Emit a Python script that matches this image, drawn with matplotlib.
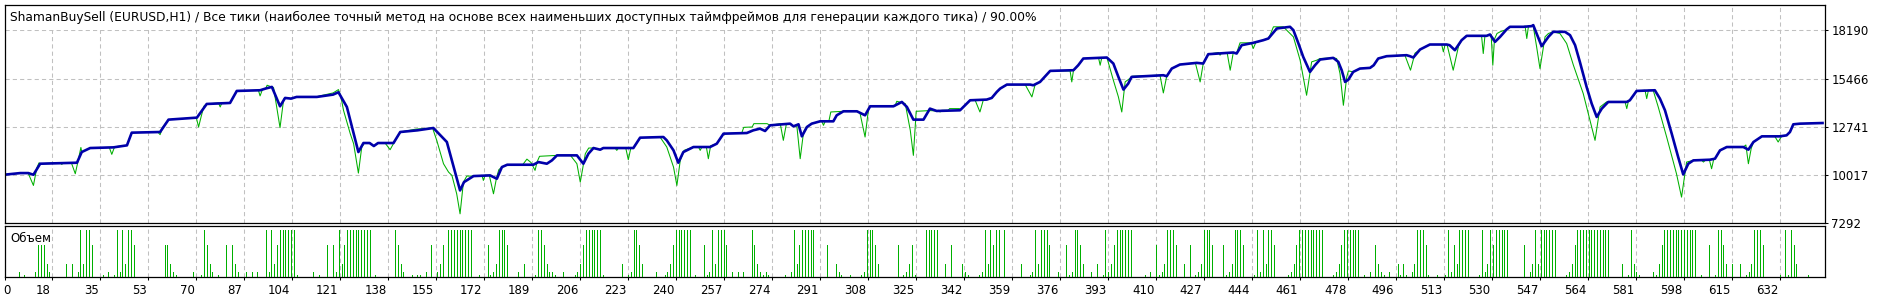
import matplotlib
matplotlib.use("Agg")
import matplotlib.pyplot as plt
import matplotlib.transforms as mtransforms
import numpy as np

# -----------------------
# Texts and axes
# -----------------------
TITLE = ("ShamanBuySell (EURUSD,H1) / Все тики (наиболее точный метод на основе всех "
         "наименьших доступных таймфреймов для генерации каждого тика) / 90.00%")
VOLUME_LABEL = "Объем"
Y_TICKS = [7292, 10017, 12741, 15466, 18190]
Y_MAX = 19643
X_MAX = 648
X_STEP = 17.087  # trades per grid cell
X_TICK_LABELS = ["0", "18", "35", "53", "70", "87", "104", "121", "138", "155", "172",
                 "189", "206", "223", "240", "257", "274", "291", "308", "325", "342",
                 "359", "376", "393", "410", "427", "444", "461", "478", "496", "513",
                 "530", "547", "564", "581", "598", "615", "632"]

# -----------------------
# Balance (trade number, deposit)
# -----------------------
BAL_T = [0, 5.6, 8.5, 10.3, 12.7, 25.8, 27.5, 30.5, 38.8, 43.6, 45.3, 55.4, 58.4, 68.5,
         72.0, 80.3, 82.7, 91.0, 93.0, 95.2, 98.1, 99.9, 102.0, 104.0, 111.2, 117.0,
         118.9, 121.9, 126.0, 127.8, 130.0, 131.5, 133.0, 138.5, 140.9, 147.0, 152.7,
         157.5, 162.2, 163.6, 167.0, 172.9, 175.3, 177.1, 179.0,
         188.3, 190.1, 193.1, 194.9, 196.7, 203.8, 206.1, 207.9, 209.7, 212.1, 213.2,
         223.9, 226.3, 234.6, 235.8, 238.2, 239.9, 241.7, 245.3, 251.2, 253.6, 256.0,
         264.3, 266.6, 269.0, 270.8, 272.6, 279.7, 280.9, 282.7, 283.9, 285.7, 287.4,
         290.4, 295.1, 296.3, 298.7, 303.5, 306.4, 308.2, 316.5, 319.5, 321.3, 323.6,
         327.2, 329.5, 331.9, 340.2, 343.8, 349.7, 351.5, 353.3, 354.5,
         356.9, 365.2, 366.3, 368.7, 372.3, 380.6, 382.3, 384.1, 392.5, 394.8, 396.6,
         398.4, 400.1, 401.3, 412.6, 413.8, 415.6, 418.5, 424.5, 426.8, 428.6, 437.5,
         438.7, 440.5, 444.6, 448.2, 450.0, 451.5, 453.0, 457.7, 458.9, 460.7, 462.4,
         464.8, 466.6, 468.4, 473.1, 474.9, 476.1, 477.3, 478.5, 480.2, 482.6, 486.2,
         487.5, 489.1, 492.1, 499.2,
         500.4, 501.6, 504.0, 507.5, 513.5, 514.5, 516.4, 518.8, 520.6, 527.7, 528.9,
         530.7, 532.5, 534.8, 536.0, 540.8, 543.7, 544.3, 545.5, 547.3, 549.7, 551.4,
         555.6, 557.4, 559.2, 560.9, 563.3, 565.1, 566.9, 568.7, 571.0, 577.6, 578.7,
         581.1, 587.6, 589.4, 591.2, 593.6, 595.9, 597.7, 599.5, 601.3, 607.2, 609.0,
         610.8, 613.2, 619.1, 620.9, 622.7, 625.7, 632.1, 634.5, 635.7, 636.9, 639.3,
         647.3]
BAL_V = [10017, 10109, 10109, 10015, 10639, 10696, 11301, 11528, 11566, 11680, 12399,
         12436, 13137, 13250, 14025, 14082, 14763, 14801, 14900, 14990, 13893, 14366,
         14328, 14423, 14423, 14556, 14688, 13855, 11301, 11812, 11812, 11642, 11812,
         11812, 12436, 12531, 12663, 11869, 9125, 9598, 9939, 9977, 9788, 10450, 10582,
         10582, 10733, 10639, 10828, 11112, 11112, 10639, 11207, 11528, 11434, 11528,
         11528, 12115, 12152, 11963, 11396, 10696, 11301, 11585, 11585, 11774, 12342,
         12379, 12531, 12626, 12493, 12815, 12909, 12758, 12872, 12190, 12720, 12909,
         13042, 13042, 13382, 13609, 13609, 13382, 13893, 13893, 14139, 13855, 13137,
         13137, 13761, 13628, 13666, 14234, 14272, 14366, 14707, 14896,
         15123, 15123, 15085, 15274, 15899, 15937, 16220, 16599, 16656, 16315, 15558,
         14839, 15180, 15558, 15653, 15596, 16031, 16258, 16353, 16315, 16845, 16940,
         16883, 17356, 17488, 17639, 17734, 18018, 18302, 18396, 18207, 17450, 16693,
         15842, 16220, 16542, 16636, 16409, 15937, 15274, 15407, 15842, 16031, 16069,
         16220, 16599, 16731, 16788,
         16731, 16656, 17110, 17393, 17393, 17356, 17072, 17639, 17885, 17885, 17961,
         17545, 17828, 18245, 18396, 18396, 18434, 18491, 18018, 17299, 17828, 18112,
         18112, 17923, 17356, 16409, 14990, 14045, 13288, 13761, 14139, 14139, 14234,
         14763, 14801, 14328, 13666, 12342, 11017, 10033, 10639, 10828, 10866, 10923,
         11396, 11585, 11585, 11434, 11869, 12190, 12190, 12247, 12436, 12872, 12909,
         12945]

# -----------------------
# Equity: stretches where it leaves the balance line (trade number, equity)
# -----------------------
EQ_DEV = [
    [(8.5, 10080), (10.3, 9409), (11.5, 10400), (12.3, 10690)],
    [(19.8, 10696), (20.4, 10600), (21.0, 10696)],
    [(23.8, 10696), (25.2, 10072), (26.2, 10800), (27.2, 11560)],
    [(37.3, 11566), (38.2, 11169), (39.2, 11600)],
    [(54.6, 12436), (55.4, 12285), (56.3, 12700)],
    [(68.3, 13250), (69.1, 12720), (70.0, 13300), (71.0, 13900)],
    [(76.2, 14082), (76.8, 13855), (77.4, 14082)],
    [(90.4, 14801), (91.0, 14480), (91.8, 14830)],
    [(93.5, 15085), (95.8, 14950), (98.1, 12682), (99.4, 14300)],
    [(112.0, 14470), (117.0, 14650), (118.9, 14839), (119.8, 14423), (120.7, 13666),
     (123.1, 12342), (124.3, 11774), (126.0, 10109), (127.2, 11585), (128.2, 11812)],
    [(135.5, 11812), (137.3, 11434), (138.6, 11812)],
    [(146.5, 12600), (152.4, 12663), (153.9, 11963), (156.3, 10639), (158.1, 10166),
     (159.3, 9977), (161.0, 8936), (162.2, 7801), (163.4, 9598), (164.6, 9939)],
    [(170.0, 9977), (170.5, 9693), (171.1, 9990)],
    [(172.6, 9990), (174.1, 8936), (175.2, 9850), (176.0, 10300)],
    [(184.5, 10582), (186.0, 10900), (187.5, 10700), (188.9, 10261), (189.6, 10733),
     (190.5, 11060), (195.5, 11100)],
    [(201.5, 11112), (203.8, 10639), (205.0, 9598), (206.8, 11207), (208.0, 11528)],
    [(217.4, 11528), (218.0, 11396), (218.6, 11528)],
    [(221.2, 11528), (222.1, 10866), (223.0, 11528)],
    [(233.4, 12152), (235.8, 11585), (238.2, 10450), (239.4, 9409), (240.6, 10828),
     (242.0, 11400)],
    [(247.1, 11585), (247.7, 11396), (248.3, 11585)],
    [(249.9, 11585), (250.6, 10923), (251.4, 11650)],
    [(262.5, 12379), (263.2, 12700), (266.2, 12720), (266.8, 12909), (271.5, 12909)],
    [(276.2, 12909), (277.3, 11963), (278.4, 12909)],
    [(282.1, 12800), (283.3, 10923), (284.5, 12436), (285.5, 12720)],
    [(291.0, 13042), (291.6, 12815), (292.2, 13042)],
    [(293.5, 13042), (294.2, 13571), (298.7, 13609)],
    [(304.6, 13500), (306.4, 12152), (307.6, 13700)],
    [(317.0, 13893), (317.7, 14177), (320.7, 14045), (322.5, 12531), (323.6, 11112),
     (324.6, 13609), (329.5, 13650)],
    [(332.5, 13666), (333.1, 13571), (333.7, 13666)],
    [(336.0, 13666), (336.5, 13761), (340.0, 13761)],
    [(345.6, 14234), (347.3, 13571), (348.5, 14250)],
    [(363.4, 15123), (365.8, 14423), (367.0, 15150)],
    [(379.4, 15899), (380.0, 15274), (380.6, 15930)],
    [(389.5, 16656), (390.1, 16220), (390.7, 16656)],
    [(392.5, 16656), (394.8, 15370), (396.6, 14423), (397.8, 13571), (399.0, 15274),
     (400.5, 15450), (401.6, 15596)],
    [(411.4, 15653), (412.6, 14650), (413.8, 15596)],
    [(424.0, 16353), (425.7, 15274), (426.8, 16315)],
    [(432.2, 16940), (432.8, 16788), (433.4, 16940)],
    [(435.3, 16940), (436.4, 15937), (437.5, 16940)],
    [(439.3, 17200), (439.9, 17488), (443.0, 17488)],
    [(443.9, 17488), (444.6, 17166), (445.5, 17500)],
    [(450.8, 18000), (451.8, 18396), (455.3, 18396), (458.9, 17828), (461.3, 16504),
     (463.6, 14518), (465.4, 16409), (467.2, 16504), (468.4, 16599)],
    [(474.3, 16599), (475.5, 15747), (476.7, 13950), (477.9, 15558), (478.5, 15899)],
    [(498.6, 16788), (500.6, 15937), (502.2, 16900)],
    [(511.7, 17393), (512.3, 16977), (512.9, 17393)],
    [(513.6, 17393), (515.8, 15937), (517.7, 17300)],
    [(525.9, 17885), (526.5, 16883), (527.1, 17885)],
    [(529.3, 17961), (529.9, 16220), (530.5, 17700), (531.4, 18018), (532.5, 18112)],
    [(541.4, 18434), (542.0, 17734), (542.6, 18434)],
    [(544.3, 18434), (545.5, 17262), (546.7, 16031), (548.5, 17828), (549.7, 18018)],
    [(551.4, 18112), (553.8, 18018), (556.2, 17450), (558.6, 16220), (562.1, 14612),
     (564.5, 13098), (566.3, 11963), (568.1, 13855), (570.4, 14139)],
    [(577.0, 14139), (577.6, 13761), (578.2, 14200)],
    [(584.1, 14801), (584.7, 14328), (585.3, 14801)],
    [(587.0, 14801), (588.8, 13855), (591.8, 12152), (595.3, 10072), (597.1, 8747),
     (598.9, 10733), (601.3, 10828)],
    [(604.3, 10828), (604.9, 10733), (605.5, 10828)],
    [(607.0, 10866), (607.8, 10355), (608.6, 10923)],
    [(620.0, 11700), (620.9, 10639), (621.9, 11500)],
    [(630.3, 12190), (631.5, 11869), (632.7, 12190)],
]

# -----------------------
# Volume per trade, grouped by lot size
# -----------------------
LOTS = [0.1, 0.3, 0.8, 1.9, 2.8]
VOL_L1 = [7, 35, 39, 61, 70, 76, 104, 112, 132, 145, 147, 148, 169, 173, 189, 196, 203,
          213, 222, 235, 246, 250, 270, 272, 278, 298, 301, 305, 320, 324, 343, 347, 365,
          379, 391, 406, 411, 424, 435, 445, 457, 473, 484, 491, 497, 499, 507, 510, 513,
          525, 556, 578, 582, 588, 604, 609, 620, 632, 635, 642]
VOL_L2 = [5, 11, 16, 26, 37, 41, 60, 67, 74, 83, 86, 88, 90, 94, 110, 118, 142, 150, 154,
          174, 183, 194, 195, 199, 204, 223, 232, 236, 251, 259, 261, 263, 269, 271, 280,
          297, 306, 321, 342, 348, 366, 375, 380, 387, 393, 408, 412, 425, 436, 447, 458,
          474, 486, 490, 493, 501, 515, 527, 543, 557, 581, 587, 621]
VOL_L3 = [15, 22, 24, 28, 43, 59, 73, 82, 96, 120, 141, 155, 175, 185, 193, 205, 220, 227,
          237, 253, 268, 282, 296, 311, 322, 335, 341, 350, 362, 368, 384, 389, 394, 413,
          420, 426, 437, 449, 459, 475, 489, 496, 498, 502, 517, 528, 544, 546, 558, 576,
          580, 589, 613, 615, 618, 622, 638]
VOL_L4 = [12, 13, 14, 31, 46, 57, 58, 72, 79, 81, 97, 115, 117, 121, 140, 152, 156, 172,
          179, 192, 206, 226, 238, 249, 257, 267, 283, 293, 310, 318, 323, 337, 352, 372,
          378, 383, 395, 410, 417, 422, 430, 434, 441, 452, 460, 476, 488, 506, 516, 530,
          541, 559, 590, 607, 612, 626, 637]
VOL_L5 = [27, 29, 30, 40, 42, 44, 45, 71, 93, 95, 98, 99, 100, 101, 102, 103, 119, 122,
          123, 124, 125, 126, 127, 128, 129, 130, 139, 158, 159, 160, 161, 162, 163, 164,
          165, 166, 176, 177, 178, 190, 191, 207, 208, 209, 210, 211, 212, 224, 225, 239,
          240, 241, 242, 243, 244, 252, 254, 255, 256, 266, 281, 284, 285, 286, 287, 288,
          307, 308, 309, 328, 329, 330, 331, 332, 349, 351, 353, 354, 356, 367, 369, 370,
          371, 381, 382, 392, 396, 397, 398, 399, 400, 401, 414, 415, 416, 427, 428, 429,
          438, 439, 440, 446, 448, 450, 451, 461, 462, 463, 464, 465, 466, 467, 468, 469,
          477, 478, 479, 480, 481, 482, 503, 504, 505, 514, 518, 519, 520, 521, 526, 529,
          531, 532, 533, 534, 535, 545, 547, 548, 549, 550, 551, 552, 560, 561, 562, 563,
          564, 565, 566, 567, 568, 569, 570, 571, 579, 591, 592, 593, 594, 595, 596, 597,
          598, 599, 600, 601, 602, 610, 611, 623, 624, 625, 634, 636]

BLUE = "#0000AA"
GREEN = "#00B000"
GRID = "#C0C0C0"
FONT = 8.5

# equity = balance outside the deviation stretches + the stretches themselves
eq = [(t, v) for t, v in zip(BAL_T, BAL_V)
      if not any(s[0][0] <= t <= s[-1][0] for s in EQ_DEV)]
for s in EQ_DEV:
    eq += s
eq.sort()
eq_t = [p[0] for p in eq]
eq_v = [p[1] for p in eq]

vol_t, vol_lot = [], []
for lot, trades in zip(LOTS, [VOL_L1, VOL_L2, VOL_L3, VOL_L4, VOL_L5]):
    vol_t += trades
    vol_lot += [lot] * len(trades)

plt.rcParams["font.family"] = ["DejaVu Sans"]
W, H = 1889, 300
fig = plt.figure(figsize=(W / 100, H / 100), dpi=100)
left, right = 4.5, 1824.5
ax = fig.add_axes([left / W, 1 - 222.8 / H, (right - left) / W, (222.8 - 4.8) / H])
axv = fig.add_axes([left / W, 1 - 276.8 / H, (right - left) / W, (276.8 - 225.5) / H])

xt = np.arange(len(X_TICK_LABELS)) * X_STEP
dash = (0, (4, 3))

# --- main panel ---
ax.plot(eq_t, eq_v, color=GREEN, lw=0.75, zorder=3)
ax.plot(BAL_T, BAL_V, color=BLUE, lw=1.9, zorder=4, solid_joinstyle="round")
ax.set_xlim(0, X_MAX)
ax.set_ylim(Y_TICKS[0], Y_MAX)
ax.set_xticks(xt)
ax.tick_params(axis="x", bottom=False, labelbottom=False)
ax.yaxis.tick_right()
ax.set_yticks(Y_TICKS)
ax.set_yticklabels([str(v) for v in Y_TICKS])
ax.tick_params(axis="y", direction="out", length=2.5, width=0.75, pad=2.5,
               labelsize=FONT, colors="black")
ax.grid(True, color=GRID, linestyle=dash, lw=0.75, zorder=1)
ax.set_axisbelow(True)
for sp in ax.spines.values():
    sp.set_linewidth(0.9)
    sp.set_zorder(6)
ax.text(0.0031, 0.941, TITLE, transform=ax.transAxes, fontsize=FONT + 0.35,
        va="center", ha="left", zorder=5,
        bbox=dict(facecolor="white", edgecolor="none", pad=4.5))

# --- volume panel ---
axv.vlines(vol_t, 0, vol_lot, color=GREEN, lw=0.7, antialiased=False, zorder=3)
axv.set_xlim(0, X_MAX)
axv.set_ylim(0, 3.1)
axv.set_yticks([])
axv.set_xticks(xt)
axv.set_xticklabels(X_TICK_LABELS)
axv.tick_params(axis="x", direction="out", length=2.5, width=0.75, pad=3,
                labelsize=FONT)
axv.grid(True, axis="x", color=GRID, linestyle=dash, lw=0.75, zorder=1)
axv.set_axisbelow(True)
for sp in axv.spines.values():
    sp.set_linewidth(0.9)
axv.text(0.0031, 0.75, VOLUME_LABEL, transform=axv.transAxes, fontsize=FONT,
         va="center", ha="left")

# labels sit just left of their tick, the first one starts at the edge
for i, lab in enumerate(axv.get_xticklabels()):
    if i == 0:
        lab.set_ha("left")
        dx = -1
    else:
        lab.set_ha("right")
        dx = -2
    lab.set_transform(lab.get_transform() +
                      mtransforms.ScaledTranslation(dx / 100, 0, fig.dpi_scale_trans))

fig.savefig("out.png", dpi=100)
